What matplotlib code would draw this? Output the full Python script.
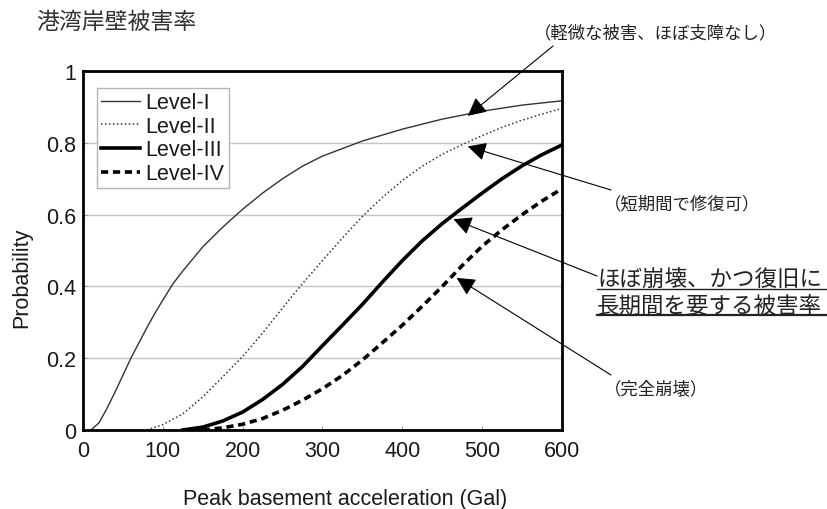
import numpy as np
import matplotlib
matplotlib.use("Agg")
import matplotlib.pyplot as plt
from matplotlib.lines import Line2D

# --- DATA ---
x_lv1 = [10, 20, 30, 40, 60, 80, 90, 100, 112, 125, 150, 175, 200, 225, 250, 275, 300, 350, 400, 450, 500, 550, 600]
y_lv1 = [0, 0.02, 0.06, 0.105, 0.2, 0.285, 0.325, 0.362, 0.405, 0.443, 0.51, 0.565, 0.615, 0.66, 0.70, 0.735, 0.763, 0.805, 0.838, 0.866, 0.888, 0.905, 0.917]

x_lv2 = [80, 100, 125, 150, 175, 200, 225, 250, 275, 300, 325, 350, 375, 400, 425, 450, 475, 500, 525, 550, 575, 600]
y_lv2 = [0, 0.015, 0.045, 0.092, 0.148, 0.205, 0.27, 0.34, 0.408, 0.472, 0.535, 0.595, 0.648, 0.695, 0.735, 0.768, 0.795, 0.82, 0.843, 0.863, 0.88, 0.896]

x_lv3 = [125, 150, 175, 200, 225, 250, 275, 300, 325, 350, 375, 400, 425, 450, 475, 500, 525, 550, 575, 600]
y_lv3 = [0, 0.008, 0.025, 0.05, 0.085, 0.127, 0.177, 0.235, 0.292, 0.35, 0.412, 0.472, 0.527, 0.575, 0.618, 0.66, 0.7, 0.736, 0.767, 0.794]

x_lv4 = [150, 175, 200, 225, 250, 275, 300, 325, 350, 375, 400, 425, 450, 475, 500, 525, 550, 575, 600]
y_lv4 = [0, 0.006, 0.016, 0.032, 0.055, 0.083, 0.115, 0.152, 0.195, 0.243, 0.292, 0.345, 0.4, 0.458, 0.512, 0.558, 0.6, 0.638, 0.672]

labels = ["Level-I", "Level-II", "Level-III", "Level-IV"]
x_ticks = [0, 100, 200, 300, 400, 500, 600]
y_ticks = [0, 0.2, 0.4, 0.6, 0.8, 1]
y_ticklabels = ["0", "0.2", "0.4", "0.6", "0.8", "1"]

title_jp = "港湾岸壁被害率"
note_lv1 = "（軽微な被害、ほぼ支障なし）"
note_lv2 = "（短期間で修復可）"
note_lv3 = ["ほぼ崩壊、かつ復旧に", "長期間を要する被害率"]
note_lv4 = "（完全崩壊）"

# --- FIGURE ---
W, H = 828, 510
plt.rcParams["font.family"] = ["Liberation Sans", "DejaVu Sans"]
JP = ["Noto Sans CJK JP", "DejaVu Sans"]

fig = plt.figure(figsize=(W / 100, H / 100), dpi=100)
ax = fig.add_axes([83 / W, 1 - 431 / H, (562 - 83) / W, (431 - 72) / H])


def fx(px):
    return px / W


def fy(py):
    return 1 - py / H


ink = "#1a1a1a"
ax.plot(x_lv1, y_lv1, color="#333333", lw=1.0, label=labels[0], solid_joinstyle="round")
ax.plot(x_lv2, y_lv2, color="#333333", lw=1.1, linestyle=(0, (1, 1.6)), label=labels[1])
ax.plot(x_lv3, y_lv3, color="black", lw=2.6, label=labels[2], solid_joinstyle="round")
ax.plot(x_lv4, y_lv4, color="black", lw=2.6, linestyle=(0, (2, 1.3)), label=labels[3])

ax.set_xlim(0, 600)
ax.set_ylim(0, 1)
ax.set_xticks(x_ticks)
ax.set_yticks(y_ticks)
ax.set_yticklabels(y_ticklabels)
ax.tick_params(direction="in", length=3, width=0.8, color="#999999",
               labelsize=15.5, labelcolor=ink, pad=5)
ax.tick_params(axis="x", pad=7)
ax.yaxis.grid(True, color="#c4c4c4", lw=1.0)
ax.set_axisbelow(True)
for s in ax.spines.values():
    s.set_linewidth(2.0)
    s.set_color("black")

leg = ax.legend(loc="upper left", bbox_to_anchor=(14 / 479, 1 - 17 / 359), borderaxespad=0,
                fontsize=15.5, handlelength=1.8, handletextpad=0.25, labelspacing=0.12,
                borderpad=0.2, fancybox=False, framealpha=1, edgecolor="#b5b5b5")
leg.get_frame().set_linewidth(1.0)
for t in leg.get_texts():
    t.set_color(ink)

fig.text(fx(345), fy(500), "Peak basement acceleration (Gal)", ha="center", va="center",
         fontsize=15.5, color=ink)
fig.text(fx(22), fy(278), "Probability", ha="center", va="center", rotation=90,
         fontsize=15.5, color=ink)

fig.text(fx(36), fy(22), title_jp, ha="left", va="center", fontsize=16.5, color="#333333", family=JP)

# --- ANNOTATIONS ---
arrow = dict(arrowstyle="-|>,head_length=0.75,head_width=0.38", color="black", lw=0.8,
             mutation_scale=15, shrinkA=0, shrinkB=0)


def point_to(xd, xs, ys, start_px, dy=0.0):
    yd = float(np.interp(xd, xs, ys)) + dy
    ax.annotate("", xy=(xd, yd), xycoords="data",
                xytext=(start_px[0], H - start_px[1]), textcoords="figure pixels",
                arrowprops=arrow, annotation_clip=False)


point_to(482, x_lv1, y_lv1, (553, 47), dy=-0.005)
point_to(482, x_lv2, y_lv2, (611, 191), dy=-0.012)
point_to(464, x_lv3, y_lv3, (597, 277), dy=-0.012)
point_to(468, x_lv4, y_lv4, (611, 376), dy=-0.018)

fig.text(fx(534), fy(33), note_lv1, ha="left", va="center", fontsize=12.5, color="#222222", family=JP)
fig.text(fx(604), fy(204), note_lv2, ha="left", va="center", fontsize=12.5, color="#222222", family=JP)
fig.text(fx(604), fy(389), note_lv4, ha="left", va="center", fontsize=12.5, color="#222222", family=JP)

for i, (line, yc) in enumerate(zip(note_lv3, [280, 306])):
    fig.text(fx(597), fy(yc), line, ha="left", va="center", fontsize=16.2, color="#222222", family=JP)
    uy = yc + 10
    fig.add_artist(Line2D([fx(597), fx(826)], [fy(uy), fy(uy)], color="#222222",
                          lw=1.0 if i == 0 else 1.6, transform=fig.transFigure))

fig.savefig("out.png", dpi=100)
